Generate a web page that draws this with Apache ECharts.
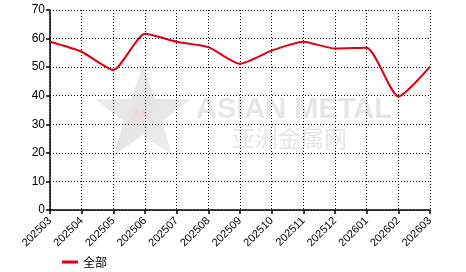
<!DOCTYPE html>
<html><head><meta charset="utf-8">
<script src="https://cdn.jsdelivr.net/npm/echarts@6/dist/echarts.min.js"></script>
<style>html,body{margin:0;padding:0;background:#fff}#c{width:466px;height:272px}</style>
</head><body><div id="c"></div>
<script>
var categories = ['202503','202504','202505','202506','202507','202508','202509','202510','202511','202512','202601','202602','202603'];
var values = [58.9, 55.4, 49.0, 61.7, 58.9, 57.0, 51.2, 55.8, 58.9, 56.5, 56.8, 39.7, 50.2];
var seriesName = '全部';
var yTicks = [0, 10, 20, 30, 40, 50, 60, 70];

function starPoints(cx, cy, R, r) {
  var pts = [];
  for (var i = 0; i < 10; i++) {
    var a = (-90 + i * 36) * Math.PI / 180;
    var rad = i % 2 === 0 ? R : r;
    pts.push([cx + rad * Math.cos(a), cy + rad * Math.sin(a)]);
  }
  return pts;
}

var chart = echarts.init(document.getElementById('c'));
var font = '"Liberation Sans", Arial, sans-serif';
chart.setOption({
  animation: false,
  grid: {left: 50, right: 36, top: 10, bottom: 62, show: false},
  graphic: [
    {type: 'polygon', z: 0, shape: {points: starPoints(143, 115, 50, 20)},
     style: {fill: new echarts.graphic.LinearGradient(0, 0, 1, 1, [{offset: 0, color: '#f2f2f2'}, {offset: 0.5, color: '#e4e4e4'}, {offset: 1, color: '#f4f4f4'}])}},
    {type: 'text', z: 0, left: 132, top: 109, style: {text: 'AM', fill: '#fbd0d0', font: '13px ' + font}},
    {type: 'text', z: 0, left: 196, top: 95, style: {text: 'ASIAN METAL', fill: '#e6e6e6', font: 'bold 29px ' + font}},
    {type: 'text', z: 0, left: 232, top: 127, style: {text: '亚洲金属网', fill: '#e6e6e6', font: '23px "Noto Sans CJK SC"'}}
  ],
  legend: {
    left: 57, top: 251, itemWidth: 16, itemHeight: 3, itemGap: 5,
    textStyle: {fontFamily: '"Noto Sans CJK SC"', fontSize: 12, color: '#000'},
    data: [{name: seriesName, icon: 'rect'}]
  },
  xAxis: {
    type: 'category', data: categories, boundaryGap: false,
    axisLine: {lineStyle: {color: '#000', width: 1.5}},
    axisTick: {show: true, length: 4, lineStyle: {color: '#000', width: 1.5}, alignWithLabel: true},
    axisLabel: {rotate: 45, fontSize: 11, fontFamily: font, color: '#000', margin: 9, interval: 0},
    splitLine: {show: true, lineStyle: {color: '#000', type: [1, 2], width: 1}}
  },
  yAxis: {
    type: 'value', min: yTicks[0], max: yTicks[yTicks.length - 1], interval: 10,
    axisLine: {show: true, lineStyle: {color: '#000', width: 1.5}},
    axisTick: {show: true, length: 4, lineStyle: {color: '#000', width: 1.5}},
    axisLabel: {fontSize: 12, fontFamily: font, color: '#000', margin: 5},
    splitLine: {show: true, lineStyle: {color: '#000', type: [1, 2], width: 1}}
  },
  series: [{
    name: seriesName, type: 'line', data: values, smooth: 0.2,
    symbol: 'none', z: 5,
    lineStyle: {color: '#e00012', width: 2},
    itemStyle: {color: '#e00012'}
  }]
});
</script></body></html>
